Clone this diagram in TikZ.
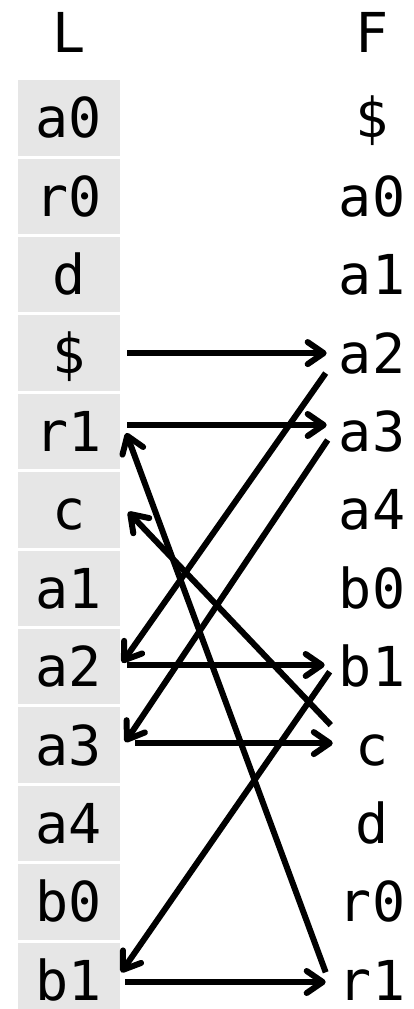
\documentclass[tikz,border=0pt]{standalone}
\usepackage{fontspec}
\newfontfamily\monofont{DejaVu Sans Mono}
\usetikzlibrary{arrows.meta}
\definecolor{cellgray}{RGB}{230,230,230}
\begin{document}
\begin{tikzpicture}[x=1pt,y=1pt,
  txt/.style={font=\monofont\fontsize{55}{55}\selectfont, inner sep=0pt, text height=40pt, text depth=0pt},
  lcell/.style={txt, fill=cellgray, minimum width=102pt, minimum height=75.4pt},
  fcell/.style={txt, minimum width=66pt},
  link/.style={line width=6pt, -{Straight Barb[length=16pt,width=22pt,round]}}
]
\useasboundingbox (0,0) rectangle (413,-1009);
\clip (0,0) rectangle (413,-1009);
\node[txt] (hL) at (69,-32) {L};
\node[txt] (hF) at (372,-32) {F};
\foreach \t [count=\i] in {a0,r0,d,\$,r1,c,a1,a2,a3,a4,b0,b1}
  \node[lcell] (L\i) at (69,{-(117.9+(\i-1)*78.4)}) {\t};
\foreach \t [count=\i] in {\$,a0,a1,a2,a3,a4,b0,b1,c,d,r0,r1}
  \node[fcell] (F\i) at (372,{-(117.9+(\i-1)*78.4)}) {\t};
% left to right
\draw[link] ([xshift=7pt]L4.east) -- ([xshift=-12pt]F4.west);
\draw[link] ([shift={(7,6.5)}]L5.east) -- ([shift={(-12,6.5)}]F5.west);
\draw[link] ([shift={(7,1.7)}]L8.east) -- ([shift={(-14,1.7)}]F8.west);
\draw[link] ([shift={(15,2)}]L9.east) -- ([shift={(-6,2)}]F9.west);
\draw[link] ([shift={(5,-1.7)}]L12.east) -- ([shift={(-13,-1.7)}]F12.west);
% right to left
\draw[link] ([shift={(-13,-20)}]F4.west) -- ([shift={(2,4)}]L8.east);
\draw[link] ([shift={(-11,-8.5)}]F5.west) -- ([shift={(5,3)}]L9.east);
\draw[link] ([shift={(-8,20)}]F9.west) -- ([shift={(8,-2)}]L6.east);
\draw[link] ([shift={(-13,8)}]F12.west) -- ([shift={(6,-1.5)}]L5.east);
\draw[link] ([shift={(-9,-5)}]F8.west) -- ([shift={(1,8)}]L12.east);
\end{tikzpicture}
\end{document}
